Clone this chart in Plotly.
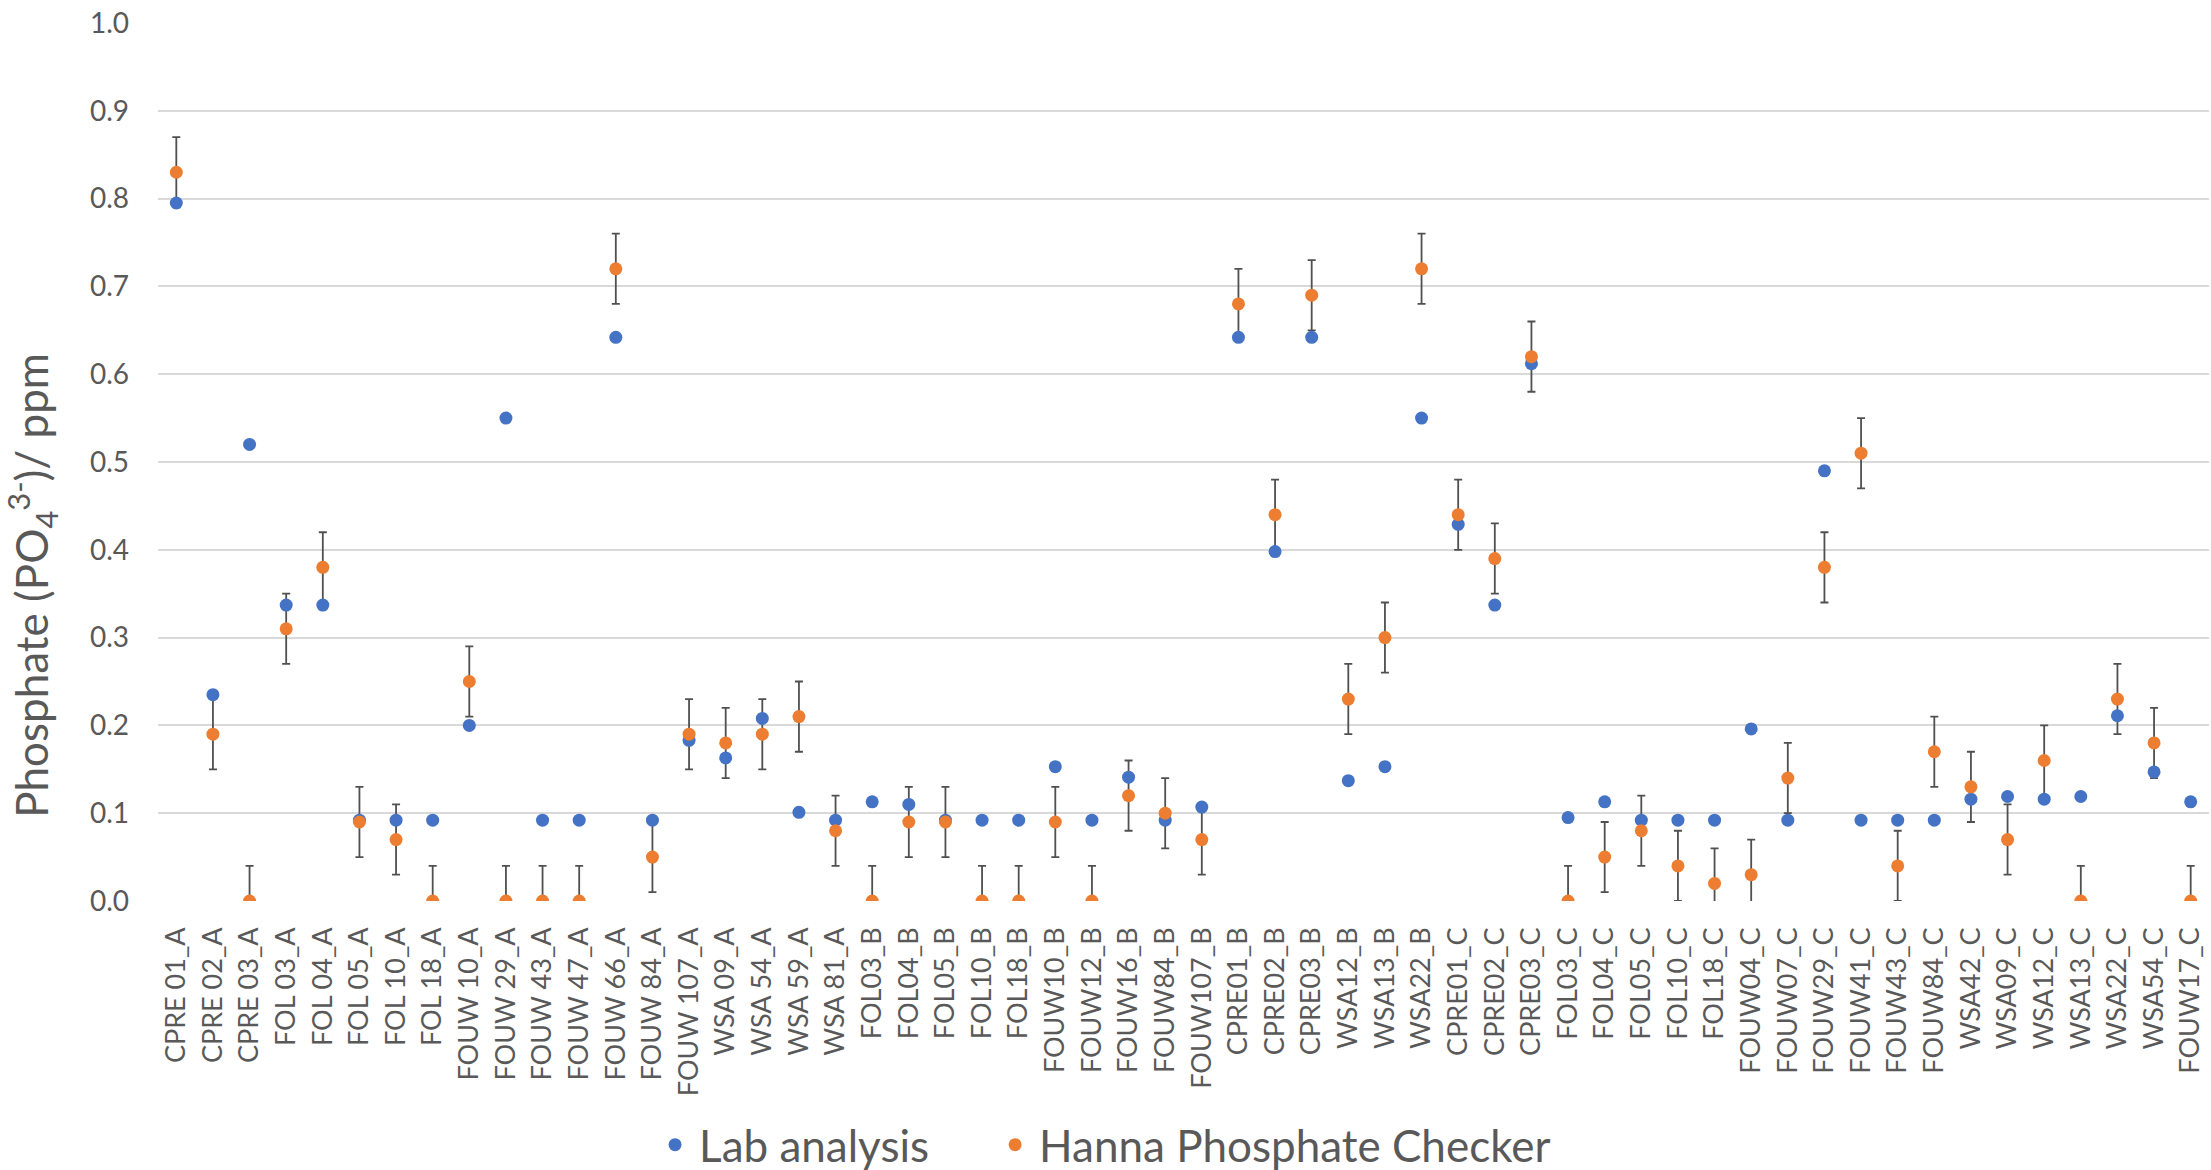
import plotly.graph_objects as go

categories = [
    "CPRE 01_A", "CPRE 02_A", "CPRE 03_A", "FOL 03_A", "FOL 04_A", "FOL 05_A", "FOL 10_A", "FOL 18_A",
    "FOUW 10_A", "FOUW 29_A", "FOUW 43_A", "FOUW 47_A", "FOUW 66_A", "FOUW 84_A", "FOUW 107_A",
    "WSA 09_A", "WSA 54_A", "WSA 59_A", "WSA 81_A",
    "FOL03_B", "FOL04_B", "FOL05_B", "FOL10_B", "FOL18_B", "FOUW10_B", "FOUW12_B", "FOUW16_B",
    "FOUW84_B", "FOUW107_B", "CPRE01_B", "CPRE02_B", "CPRE03_B", "WSA12_B", "WSA13_B", "WSA22_B",
    "CPRE01_C", "CPRE02_C", "CPRE03_C", "FOL03_C", "FOL04_C", "FOL05_C", "FOL10_C", "FOL18_C",
    "FOUW04_C", "FOUW07_C", "FOUW29_C", "FOUW41_C", "FOUW43_C", "FOUW84_C", "WSA42_C", "WSA09_C",
    "WSA12_C", "WSA13_C", "WSA22_C", "WSA54_C", "FOUW17_C",
]

lab_analysis = [
    0.795, 0.235, 0.520, 0.337, 0.337, 0.092, 0.092, 0.092,
    0.200, 0.550, 0.092, 0.092, 0.642, 0.092, 0.183,
    0.163, 0.208, 0.101, 0.092,
    0.113, 0.110, 0.092, 0.092, 0.092, 0.153, 0.092, 0.141,
    0.092, 0.107, 0.642, 0.398, 0.642, 0.137, 0.153, 0.550,
    0.429, 0.337, 0.612, 0.095, 0.113, 0.092, 0.092, 0.092,
    0.196, 0.092, 0.490, 0.092, 0.092, 0.092, 0.116, 0.119,
    0.116, 0.119, 0.211, 0.147, 0.113,
]

hanna_checker = [
    0.83, 0.19, 0.00, 0.31, 0.38, 0.09, 0.07, 0.00,
    0.25, 0.00, 0.00, 0.00, 0.72, 0.05, 0.19,
    0.18, 0.19, 0.21, 0.08,
    0.00, 0.09, 0.09, 0.00, 0.00, 0.09, 0.00, 0.12,
    0.10, 0.07, 0.68, 0.44, 0.69, 0.23, 0.30, 0.72,
    0.44, 0.39, 0.62, 0.00, 0.05, 0.08, 0.04, 0.02,
    0.03, 0.14, 0.38, 0.51, 0.04, 0.17, 0.13, 0.07,
    0.16, 0.00, 0.23, 0.18, 0.00,
]

hanna_error = 0.04

y_ticks = [0.0, 0.1, 0.2, 0.3, 0.4, 0.5, 0.6, 0.7, 0.8, 0.9, 1.0]

BLUE = "#4472C4"
ORANGE = "#ED7D31"
TEXT = "#595959"
FONT = "Lato"

fig = go.Figure()

# error bars (drawn beneath both marker series)
fig.add_trace(go.Scatter(
    x=categories, y=hanna_checker, mode="markers",
    marker=dict(size=12, color="rgba(0,0,0,0)"),
    error_y=dict(type="constant", value=hanna_error, color="#505050", thickness=1.8, width=4),
    showlegend=False, hoverinfo="skip",
))

fig.add_trace(go.Scatter(
    x=categories, y=lab_analysis, mode="markers", name="Lab analysis",
    marker=dict(size=13, color=BLUE), legend="legend",
))

fig.add_trace(go.Scatter(
    x=categories, y=hanna_checker, mode="markers", name="Hanna Phosphate Checker",
    marker=dict(size=13, color=ORANGE), legend="legend2",
))

legend_common = dict(
    orientation="h", xanchor="left", y=-0.278, yanchor="middle",
    font=dict(size=44, color=TEXT, family=FONT), itemsizing="trace",
    itemwidth=38, bgcolor="rgba(0,0,0,0)",
)

fig.update_layout(
    width=2211, height=1170,
    margin=dict(l=158, r=2, t=23, b=269, autoexpand=False),
    paper_bgcolor="white", plot_bgcolor="white",
    font=dict(family=FONT, color=TEXT),
    showlegend=True,
    legend=dict(x=0.2404, **legend_common),
    legend2=dict(x=0.4062, **legend_common),
    xaxis=dict(
        type="category", range=[-0.5, len(categories) - 0.5],
        showgrid=False, showline=False, zeroline=False, ticks="",
        tickangle=-90, tickfont=dict(size=27, color=TEXT, family=FONT),
        ticklabelstandoff=20,
    ),
    yaxis=dict(
        range=[0, 1.0], tickvals=y_ticks, tickformat=".1f",
        showgrid=True, gridcolor="#D9D9D9", gridwidth=2,
        zeroline=False, showline=False, ticks="",
        tickfont=dict(size=28, color=TEXT, family=FONT),
        ticklabelstandoff=28,
    ),
    annotations=[dict(
        text="Phosphate (PO<sub>4</sub><sup>3-</sup>)/ ppm",
        xref="paper", yref="paper", x=-0.061, y=0.36,
        xanchor="center", yanchor="middle", textangle=-90, showarrow=False,
        font=dict(size=44, color=TEXT, family=FONT),
    )],
)

fig.write_html(
    "out.html",
    config={"displayModeBar": False},
    post_script="document.body.style.margin='0';document.body.style.overflow='hidden';",
)
